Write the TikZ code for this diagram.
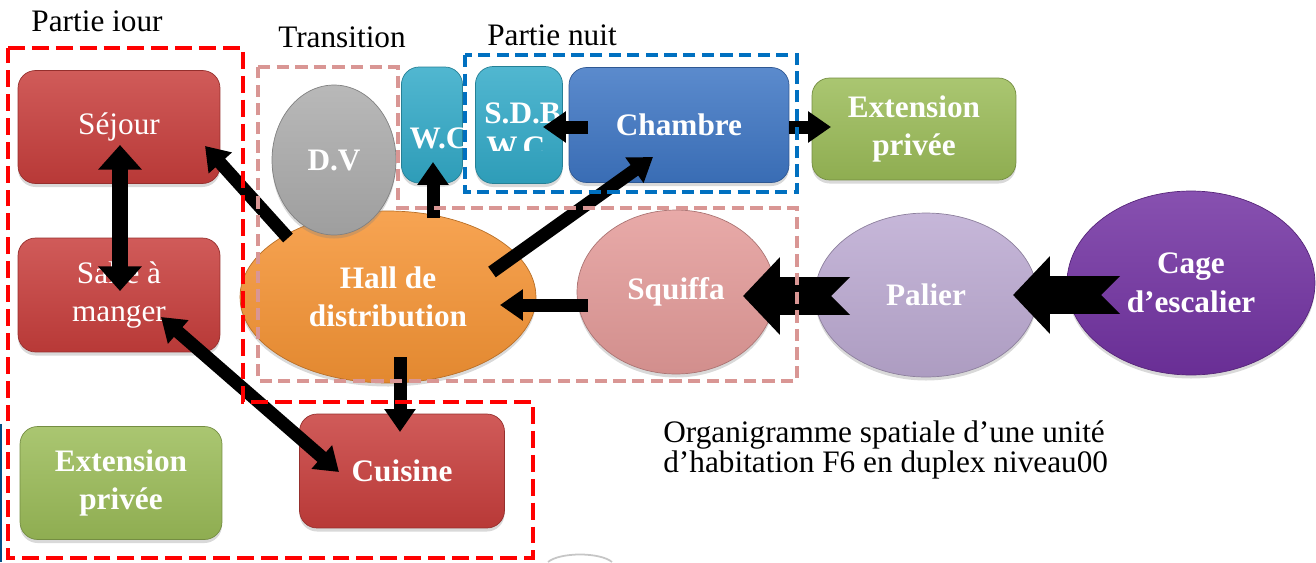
\documentclass[tikz,border=0pt]{standalone}
\usepackage{fontspec}
\setmainfont{Liberation Serif}
\usepackage{tikz}
\usetikzlibrary{arrows.meta, shapes.geometric, shadows}
\tikzset{every picture/.style={/utils/exec={\fontsize{17.8}{22}\selectfont}}}

\definecolor{RoomRed}{RGB}{200,62,60}
\definecolor{ExtGreen}{RGB}{155,188,88}
\definecolor{DvGray}{RGB}{172,172,172}
\definecolor{WcAqua}{RGB}{50,170,200}
\definecolor{NightBlue}{RGB}{62,118,196}
\definecolor{HallOrange}{RGB}{246,148,52}
\definecolor{SquiffaPink}{RGB}{228,155,153}
\definecolor{PalierLilac}{RGB}{188,170,210}
\definecolor{CagePurple}{RGB}{114,50,162}
\definecolor{FrameBlue}{RGB}{0,112,192}
\definecolor{FramePink}{RGB}{217,150,148}

\begin{document}
\begin{tikzpicture}[x=0.02cm, y=-0.02cm, >=Stealth,
    roombox/.style={rectangle, rounded corners=10pt, draw=#1!75!black, top color=#1!85!white, bottom color=#1!92!black, text=white, align=center, inner sep=0pt, drop shadow={opacity=0.3, shadow xshift=0pt, shadow yshift=-2pt}},
    roomoval/.style={ellipse, draw=#1!75!black, top color=#1!85!white, bottom color=#1!92!black, text=white, align=center, inner sep=0pt, drop shadow={opacity=0.3, shadow xshift=0pt, shadow yshift=-2pt}},
    link/.style={line width=7.4pt, -{Triangle[length=13pt, width=17pt]}},
    linkboth/.style={line width=7.4pt, {Triangle[length=13pt, width=17pt]}-{Triangle[length=13pt, width=17pt]}},
    twoway/.style={line width=9.6pt, {Triangle[length=14pt, width=24pt]}-{Triangle[length=14pt, width=24pt]}},
    bigarrow/.style={line width=21.5pt, {Triangle Cap[reversed]}-{Triangle[length=21pt, width=43pt]}},
    zone/.style={draw=#1, line width=2.2pt, dash pattern=on 7pt off 3.6pt}]
    \useasboundingbox (0,0) rectangle (1316,562);

    % Nodes
    \node[roombox=RoomRed, minimum width=4.04cm, minimum height=2.26cm] (sej) at (119,127) {Séjour};
    \node[roombox=RoomRed, minimum width=4.04cm, minimum height=2.28cm] (salle) at (119,295) {Salle à\\manger};
    \node[roombox=ExtGreen, minimum width=4.04cm, minimum height=2.26cm, font=\bfseries] (extj) at (121,483) {Extension\\privée};
    \node[roombox=RoomRed, minimum width=4.1cm, minimum height=2.28cm, font=\bfseries] (cuis) at (402,471) {Cuisine};
    \node[roomoval=HallOrange, minimum width=5.92cm, minimum height=3.44cm, font=\bfseries] (hall) at (388,297) {Hall de\\distribution};
    \node[roomoval=DvGray, minimum width=2.48cm, minimum height=3cm, font=\bfseries] (dv) at (334,160) {D.V};
    \node[roombox=WcAqua, minimum width=1.22cm, minimum height=2.32cm] (wc) at (432,125) {};
    \node[roombox=WcAqua, minimum width=1.74cm, minimum height=2.34cm] (sdb) at (519,125) {};
    \node[roombox=NightBlue, minimum width=4.4cm, minimum height=2.3cm, font=\bfseries] (ch) at (679,125) {Chambre};
    \node[roombox=ExtGreen, minimum width=4.08cm, minimum height=2.04cm, font=\bfseries] (extn) at (914,129) {Extension\\privée};
    \node[roomoval=SquiffaPink, minimum width=3.96cm, minimum height=3.28cm, font=\bfseries] (sq) at (676,292) {Squiffa};
    \node[roomoval=PalierLilac, minimum width=4.44cm, minimum height=3.28cm, font=\bfseries] (pal) at (926,295) {Palier};
    \node[roomoval=CagePurple, minimum width=4.96cm, minimum height=3.68cm, font=\bfseries] (cage) at (1191,283) {Cage\\d’escalier};

    % clipped labels
    \begin{scope}
        \clip (403,70) rectangle (462,149);
        \node[text=white, font=\bfseries, inner sep=0pt] (wclabel) at (439,138) {W.C};
    \end{scope}
    \begin{scope}
        \clip (476,70) rectangle (560,150);
        \node[text=white, font=\bfseries, inner sep=0pt, anchor=base west] (sdbtop) at (484,123) {S.D.B};
        \node[text=white, font=\bfseries, inner sep=0pt, anchor=base west] (sdbbot) at (486,157) {W.C};
    \end{scope}

    % Directed edges
    \draw[twoway] ([shift={(1,18)}]sej.center) -- ([shift={(1,-4)}]salle.center);
    \draw[link] ([shift={(-100,-59)}]hall.center) -- ([shift={(86,19)}]sej.center);
    \draw[linkboth] ([shift={(42,22)}]salle.center) -- ([shift={(-63,1)}]cuis.center);
    \draw[link] ([shift={(12,60)}]hall.center) -- ([shift={(-2,-39)}]cuis.center);
    \draw[link] ([shift={(45,-79)}]hall.center) -- ([shift={(1,37)}]wc.center);
    \draw[link] ([shift={(104,-25)}]hall.center) -- ([shift={(-26,32)}]ch.center);
    \draw[link] ([shift={(-88,13)}]sq.center) -- ([shift={(112,8)}]hall.center);
    \draw[link] ([shift={(-91,2)}]ch.center) -- ([shift={(24,2)}]sdb.center);
    \draw[link] ([shift={(110,2)}]ch.center) -- ([shift={(-83,-2)}]extn.center);
    \draw[bigarrow] ([shift={(-76,1)}]pal.center) -- ([shift={(67,4)}]sq.center);
    \draw[bigarrow] ([shift={(-71,12)}]cage.center) -- ([shift={(87,0)}]pal.center);

    % zones
    \draw[zone=red, line width=2.8pt, dash pattern=on 9.6pt off 4pt] (8,48) -- (243,48) -- (243,402) -- (533,402) -- (533,558) -- (8,558) -- cycle;
    \draw[zone=FramePink, line width=1.8pt] (258,67) -- (398,67) -- (398,208) -- (797,208) -- (797,381) -- (258,381) -- cycle;
    \draw[zone=FrameBlue] (465,55) rectangle (797,192);

    % texts
    \node[inner sep=0pt] (jour) at (97,21) {Partie iour};
    \node[inner sep=0pt] (trans) at (342,37) {Transition};
    \node[inner sep=0pt] (nuit) at (552,35) {Partie nuit};
    \node[anchor=west, align=left, inner sep=0pt, font=\fontsize{17.8}{17.5}\selectfont] (titre) at (663,450) {Organigramme spatiale d’une unité\\d’habitation F6 en duplex niveau00};

    % bits at the edges
    \draw[gray!45, line width=1pt] (548,562) .. controls (560,552) and (600,552) .. (612,562);
    \draw[FrameBlue!70!black, line width=1.2pt] (1,424) -- (1,562);
\end{tikzpicture}
\end{document}
